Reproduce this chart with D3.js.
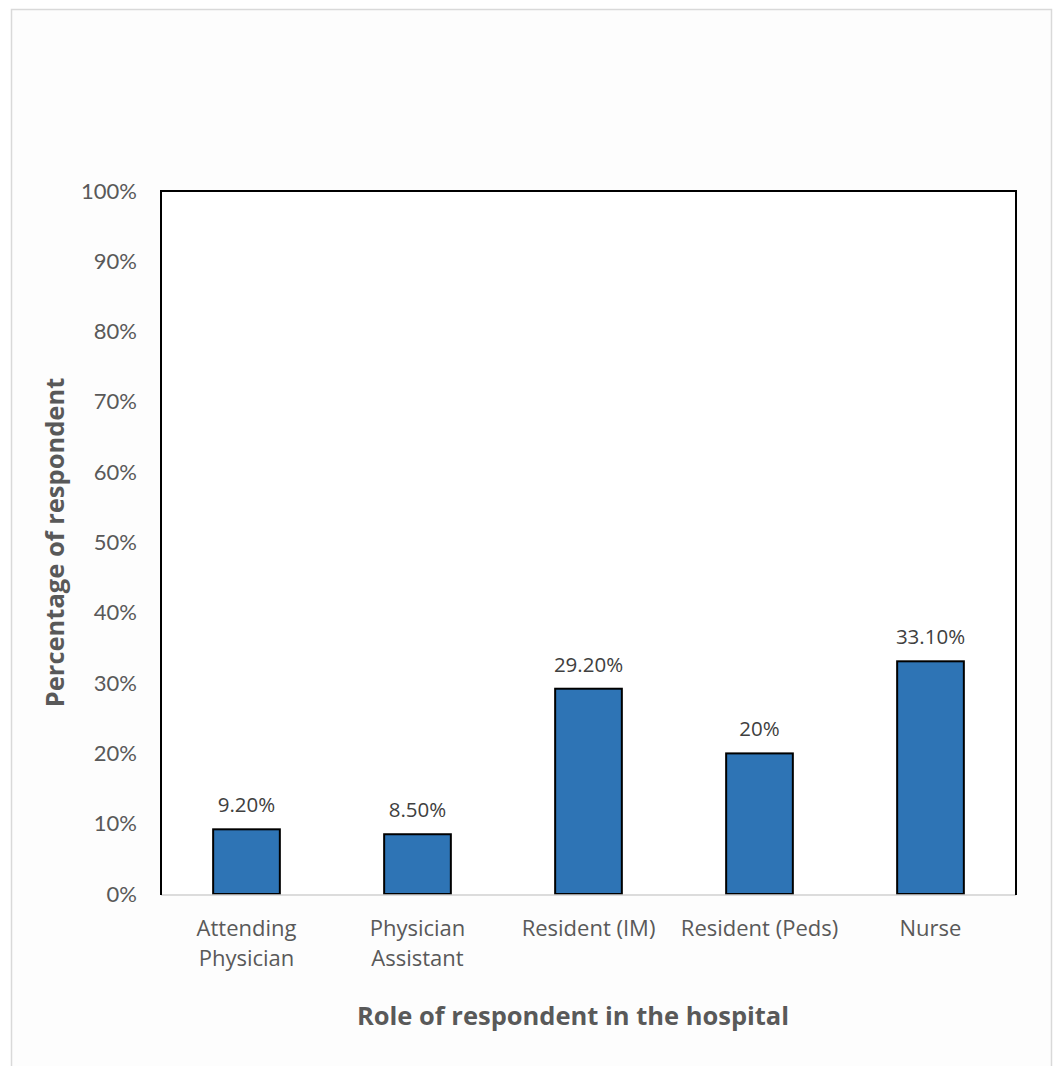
<!DOCTYPE html>
<html>
<head>
<meta charset="utf-8">
<script src="https://cdn.jsdelivr.net/npm/d3@7"></script>
<style>
  html, body { margin: 0; padding: 0; background: #ffffff; }
  svg { display: block; }
</style>
</head>
<body>
<svg id="chart" width="1057" height="1066"></svg>
<script>
// Respondent roles and their share of the survey
const roles = ["Attending Physician", "Physician Assistant", "Resident (IM)", "Resident (Peds)", "Nurse"];
const roleLines = [["Attending", "Physician"], ["Physician", "Assistant"], ["Resident (IM)"], ["Resident (Peds)"], ["Nurse"]];
const shares = [9.2, 8.5, 29.2, 20, 33.1];
const shareLabels = ["9.20%", "8.50%", "29.20%", "20%", "33.10%"];
const yTicks = [0, 10, 20, 30, 40, 50, 60, 70, 80, 90, 100];

const svg = d3.select("#chart");
const W = 1057, H = 1066;
const plot = { left: 161, right: 1016, top: 191, bottom: 894 };

// chart frame
svg.append("rect")
  .attr("x", 11.5).attr("y", 9.5)
  .attr("width", 1040).attr("height", H)
  .attr("fill", "#fdfdfd")
  .attr("stroke", "#d9d9d9").attr("stroke-width", 1.5);

const x = d3.scaleBand()
  .domain(roles)
  .range([plot.left, plot.right])
  .paddingInner(0.61)
  .paddingOuter(0.305);

const y = d3.scaleLinear()
  .domain([0, 100])
  .range([plot.bottom, plot.top]);

// plot area background
svg.append("rect")
  .attr("x", plot.left).attr("y", plot.top)
  .attr("width", plot.right - plot.left).attr("height", plot.bottom - plot.top)
  .attr("fill", "#ffffff");

// y axis tick labels
const yAxis = d3.axisLeft(y)
  .tickValues(yTicks)
  .tickFormat(d => d + "%")
  .tickSize(0)
  .tickPadding(24);
const gy = svg.append("g")
  .attr("transform", `translate(${plot.left},0)`)
  .call(yAxis);
gy.select(".domain").remove();
gy.selectAll("text")
  .attr("font-family", "Lato, 'Open Sans', sans-serif")
  .attr("font-size", 22)
  .attr("fill", "#595959");

// bars
svg.append("g").selectAll("rect")
  .data(roles)
  .join("rect")
  .attr("x", d => x(d))
  .attr("y", (d, i) => y(shares[i]))
  .attr("width", x.bandwidth())
  .attr("height", (d, i) => y(0) - y(shares[i]))
  .attr("fill", "#2e74b5")
  .attr("stroke", "#000000")
  .attr("stroke-width", 2);

// baseline
svg.append("line")
  .attr("x1", plot.left).attr("x2", plot.right)
  .attr("y1", y(0) + 1).attr("y2", y(0) + 1)
  .attr("stroke", "#d0d0d0").attr("stroke-width", 1.5);

// plot border: left, top, right
svg.append("path")
  .attr("d", `M${plot.left},${plot.bottom + 1}V${plot.top}H${plot.right}V${plot.bottom + 1}`)
  .attr("fill", "none")
  .attr("stroke", "#000000")
  .attr("stroke-width", 2);

// value labels
svg.append("g").selectAll("text")
  .data(roles)
  .join("text")
  .attr("x", d => x(d) + x.bandwidth() / 2)
  .attr("y", (d, i) => y(shares[i]) - 17)
  .attr("text-anchor", "middle")
  .attr("font-family", "'Open Sans', sans-serif")
  .attr("font-size", 20.5)
  .attr("fill", "#404040")
  .text((d, i) => shareLabels[i]);

// category labels
const cat = svg.append("g").selectAll("text")
  .data(roles)
  .join("text")
  .attr("x", d => x(d) + x.bandwidth() / 2)
  .attr("y", 936)
  .attr("text-anchor", "middle")
  .attr("font-family", "'Open Sans', sans-serif")
  .attr("font-size", 22)
  .attr("fill", "#595959");
cat.each(function(d, i) {
  const t = d3.select(this);
  roleLines[i].forEach((line, j) => {
    t.append("tspan")
      .attr("x", x(d) + x.bandwidth() / 2)
      .attr("dy", j === 0 ? 0 : 30)
      .text(line);
  });
});

// axis titles
svg.append("text")
  .attr("x", 573)
  .attr("y", 1025)
  .attr("text-anchor", "middle")
  .attr("font-family", "'Open Sans', sans-serif")
  .attr("font-weight", "bold")
  .attr("font-size", 25.5)
  .attr("fill", "#595959")
  .text("Role of respondent in the hospital");

svg.append("text")
  .attr("transform", `translate(64,${(plot.top + plot.bottom) / 2}) rotate(-90)`)
  .attr("text-anchor", "middle")
  .attr("font-family", "'Open Sans', sans-serif")
  .attr("font-weight", "bold")
  .attr("font-size", 25.5)
  .attr("fill", "#595959")
  .text("Percentage of respondent");
</script>
</body>
</html>
